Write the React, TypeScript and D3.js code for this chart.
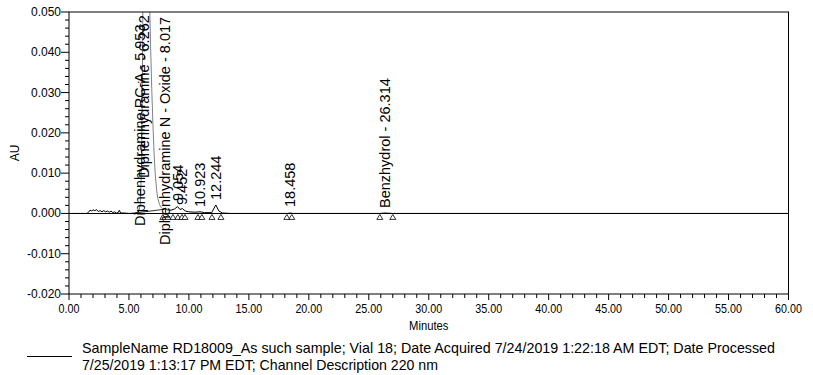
import React from "react";
import * as d3 from "d3";

// ---- data ----
const traceTime = [0, 1.5, 1.6, 1.75, 1.9, 2.0, 2.15, 2.3, 2.45, 2.6, 2.75, 2.9, 3.05, 3.2, 3.35, 3.5, 3.65, 3.8, 3.95, 4.1, 4.2, 4.3, 4.6, 5.0, 5.6, 5.85];
const traceAU = [0, 0, 0.0002, 0.0008, 0.0006, 0.0009, 0.0007, 0.0009, 0.0005, 0.0007, 0.0004, 0.0007, 0.0004, 0.0006, 0.0003, 0.0006, 0.0002, 0.0004, 0.0001, 0.0002, 0.0008, 0.0001, 0.0001, 0, 0.0001, 0.0006];
const peakTime = [5.85, 5.953, 6.05, 6.15, 6.262, 6.4, 6.55, 6.7, 6.8, 6.9, 7.0, 7.1, 7.2, 7.3, 7.4, 7.55, 7.7, 7.85];
const peakAU = [0.0006, 0.0025, 0.012, 0.045, 0.14, 0.11, 0.075, 0.055, 0.042, 0.031, 0.022, 0.0145, 0.0095, 0.006, 0.0038, 0.0022, 0.0014, 0.001];
const tailTime = [7.85, 8.017, 8.2, 8.5, 8.8, 9.054, 9.25, 9.452, 9.7, 10.0, 10.5, 10.923, 11.3, 11.9, 12.244, 12.5, 12.8, 13.5, 18.2, 18.458, 18.7, 26.0, 26.314, 27.0, 60.0];
const tailAU = [0.001, 0.0013, 0.0009, 0.0008, 0.0011, 0.0017, 0.001, 0.0012, 0.0006, 0.0004, 0.0003, 0.0004, 0.0002, 0.0002, 0.0021, 0.0006, 0.0001, 0, 0, 0.0001, 0, 0, 0.0001, 0, 0];
const dropBaselineTime = [5.5, 7.85];
const dropBaselineAU = [0.0001, 0.001];

const peakRT = [5.953, 6.262, 8.017, 9.054, 9.452, 10.923, 12.244, 18.458, 26.314];
const peakNames = ["Diphenhydramine RC-A", "Diphenhydramine", "Diphenhydramine N - Oxide", "", "", "", "", "", "Benzhydrol"];
const markerTimes = [7.83, 8.25, 8.67, 9.08, 9.42, 9.67, 10.75, 11.08, 11.92, 12.67, 18.17, 18.58, 25.92, 27.0];

const yTickLabels = ["-0.020", "-0.010", "0.000", "0.010", "0.020", "0.030", "0.040", "0.050"];
const xTickLabels = ["0.00", "5.00", "10.00", "15.00", "20.00", "25.00", "30.00", "35.00", "40.00", "45.00", "50.00", "55.00", "60.00"];
const legendLines = [
  "SampleName RD18009_As such sample; Vial 18; Date Acquired 7/24/2019 1:22:18 AM EDT; Date Processed",
  "7/25/2019 1:13:17 PM EDT; Channel Description 220 nm",
];

// ---- layout (pixels) ----
const W = 813, H = 375;
const L = 69, R = 788.5, T = 12, B = 294;
const labelBottom = [226, 178, 245, 201, 205, 207, 200, 207, 208];
const legendWidths = [693, 356];
const font = "'Liberation Sans', Arial, sans-serif";

export default function App() {
  const x = d3.scaleLinear().domain([0, 60]).range([L, R]);
  const y = d3.scaleLinear().domain([-0.02, 0.05]).range([B, T]);
  const line = d3.line<[number, number]>().x(d => x(d[0])).y(d => y(d[1]));
  const zip = (a: number[], b: number[]) => a.map((t, i) => [t, b[i]] as [number, number]);

  const yMajor = yTickLabels.map(s => parseFloat(s));
  const yMinor = d3.range(-0.02, 0.0501, 0.002).filter(v => !yMajor.some(m => Math.abs(m - v) < 1e-6));
  const xMajor = xTickLabels.map(s => parseFloat(s));
  const xMinor = d3.range(0, 61, 1).filter(v => v % 5 !== 0);

  return (
    <svg width={W} height={H} style={{ position: "absolute", left: 0, top: 0, background: "#fff" }} fontFamily={font}>
      <defs>
        <clipPath id="plot">
          <rect x={L} y={T} width={R - L} height={B - T} />
        </clipPath>
      </defs>
      <rect x={0} y={0} width={W} height={H} fill="#fff" />
      {/* zero line */}
      <line x1={L} x2={R} y1={Math.round(y(0)) + 0.5} y2={Math.round(y(0)) + 0.5} stroke="#000" strokeWidth={1} />
      <g clipPath="url(#plot)">
        <path d={line(zip(traceTime, traceAU)) || ""} fill="none" stroke="#000" strokeWidth={1} />
        <path d={line(zip(peakTime, peakAU)) || ""} fill="none" stroke="#808080" strokeWidth={1} />
        <path d={line(zip(tailTime, tailAU)) || ""} fill="none" stroke="#000" strokeWidth={1} />
        <path d={line(zip(dropBaselineTime, dropBaselineAU)) || ""} fill="none" stroke="#000" strokeWidth={0.8} />
        {markerTimes.map((t, i) => {
          const cx = x(t), cy = y(0) + 1;
          return <path key={i} d={`M${cx},${cy}L${cx + 3},${cy + 5}L${cx - 3},${cy + 5}Z`} fill="#fff" stroke="#000" strokeWidth={0.8} />;
        })}
        {peakRT.map((t, i) => {
          const label = peakNames[i] ? `${peakNames[i]} - ${t.toFixed(3)}` : t.toFixed(3);
          const ax = x(t) + 5, ay = labelBottom[i];
          return (
            <text key={i} transform={`translate(${ax},${ay}) rotate(-90)`} fontSize={14.5} fill="#000">{label}</text>
          );
        })}
      </g>
      {/* frame */}
      <rect x={L} y={T} width={R - L} height={B - T} fill="none" stroke="#000" strokeWidth={1} />
      {/* y ticks */}
      {yMajor.map((v, i) => (
        <g key={"ym" + i}>
          <line x1={L - 8} x2={L} y1={y(v)} y2={y(v)} stroke="#000" />
          <text x={L - 8} y={y(v) + 4} textAnchor="end" fontSize={12} fill="#000">{yTickLabels[i]}</text>
        </g>
      ))}
      {yMinor.map((v, i) => (
        <line key={"yn" + i} x1={L - 4} x2={L} y1={y(v)} y2={y(v)} stroke="#000" />
      ))}
      {/* x ticks */}
      {xMajor.map((v, i) => (
        <g key={"xm" + i}>
          <line x1={x(v)} x2={x(v)} y1={B} y2={B + 6} stroke="#000" />
          <text transform={`translate(${x(v)},${B + 19}) scale(0.86,1)`} textAnchor="middle" fontSize={12.5} fill="#000">{xTickLabels[i]}</text>
        </g>
      ))}
      {xMinor.map((v, i) => (
        <line key={"xn" + i} x1={x(v)} x2={x(v)} y1={B} y2={B + 4} stroke="#000" />
      ))}
      <text transform={`translate(${(L + R) / 2},${B + 36}) scale(0.9,1)`} textAnchor="middle" fontSize={12.5} fill="#000">Minutes</text>
      <text transform={`translate(19,153) rotate(-90)`} textAnchor="middle" fontSize={12} fill="#000">AU</text>
      {/* legend */}
      <line x1={27} x2={72} y1={356.5} y2={356.5} stroke="#000" strokeWidth={1} />
      {legendLines.map((s, i) => (
        <text key={"lg" + i} x={82} y={352.5 + i * 17.5} fontSize={15} fill="#000" textLength={legendWidths[i]} lengthAdjust="spacingAndGlyphs">{s}</text>
      ))}
    </svg>
  );
}
